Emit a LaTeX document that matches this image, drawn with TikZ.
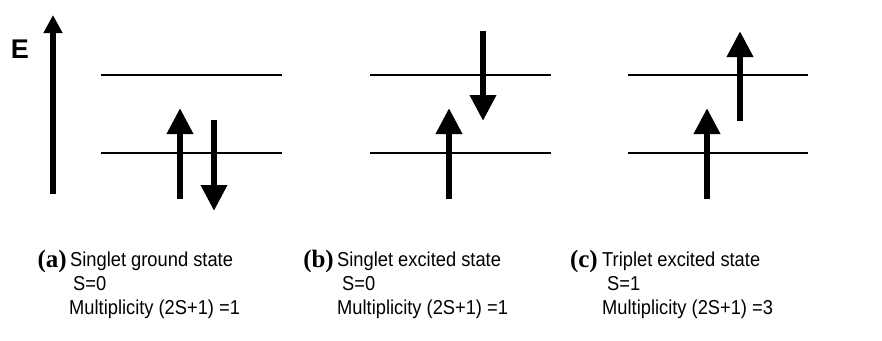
\documentclass[tikz,border=0pt]{standalone}
\usepackage{fontspec}
\setmainfont{Liberation Sans}
\newfontfamily\labelserif{Liberation Serif}
\usetikzlibrary{arrows.meta}
\newcommand{\tallsans}[1]{\scalebox{1}[1.1]{#1}}
\begin{document}
\begin{tikzpicture}[x=1pt,y=-1pt,
  level/.style={line width=1.5pt},
  spin/.style={line width=6.5pt,-{Triangle[width=25pt,length=26pt]}},
  axis/.style={line width=5.5pt,-{Triangle[width=18pt,length=18pt]}},
  txt/.style={anchor=base west,inner sep=0pt,font=\fontsize{18.3}{20}\selectfont},
  tag/.style={anchor=base east,inner sep=0pt,font=\labelserif\bfseries\fontsize{25}{27}\selectfont}]
\useasboundingbox (0,0) rectangle (882,340);

% energy axis
\coordinate (e0) at (53,194);
\coordinate (e1) at (53,15);
\draw[axis] (e0) -- (e1);
\node[anchor=center,inner sep=0pt,font=\bfseries\fontsize{27}{29}\selectfont] (elabel) at (20,49) {E};

% energy levels
\foreach \n/\xa/\xb in {a/101/282, b/370/551, c/628/808}{
  \coordinate (\n up0) at (\xa,75);
  \coordinate (\n up1) at (\xb,75);
  \coordinate (\n lo0) at (\xa,153);
  \coordinate (\n lo1) at (\xb,153);
  \draw[level] (\n up0) -- (\n up1);
  \draw[level] (\n lo0) -- (\n lo1);
}

% (a) paired spins in the lower level
\coordinate (a1s) at (180,199); \coordinate (a1e) at (180,108);
\coordinate (a2s) at (214,120); \coordinate (a2e) at (214,211);
\draw[spin] (a1s) -- (a1e);
\draw[spin] (a2s) -- (a2e);

% (b) one spin promoted, antiparallel
\coordinate (b1s) at (449,199); \coordinate (b1e) at (449,108);
\coordinate (b2s) at (483,31);  \coordinate (b2e) at (483,121);
\draw[spin] (b1s) -- (b1e);
\draw[spin] (b2s) -- (b2e);

% (c) one spin promoted, parallel
\coordinate (c1s) at (707,199); \coordinate (c1e) at (707,108);
\coordinate (c2s) at (740,121); \coordinate (c2e) at (740,31);
\draw[spin] (c1s) -- (c1e);
\draw[spin] (c2s) -- (c2e);

% captions
\node[tag] (ta) at (67,267) {(a)};
\node[txt] (a1) at (70,266) {\tallsans{Singlet ground state}};
\node[txt] (a2) at (73,290) {\tallsans{S=0}};
\node[txt] (a3) at (69,314) {\tallsans{Multiplicity (2S+1) =1}};

\node[tag] (tb) at (334,267) {(b)};
\node[txt] (b1) at (337,266) {\tallsans{Singlet excited state}};
\node[txt] (b2) at (342,290) {\tallsans{S=0}};
\node[txt] (b3) at (337,314) {\tallsans{Multiplicity (2S+1) =1}};

\node[tag] (tc) at (598,267) {(c)};
\node[txt] (c1) at (602,266) {\tallsans{Triplet excited state}};
\node[txt] (c2) at (607,290) {\tallsans{S=1}};
\node[txt] (c3) at (602,314) {\tallsans{Multiplicity (2S+1) =3}};
\end{tikzpicture}
\end{document}
